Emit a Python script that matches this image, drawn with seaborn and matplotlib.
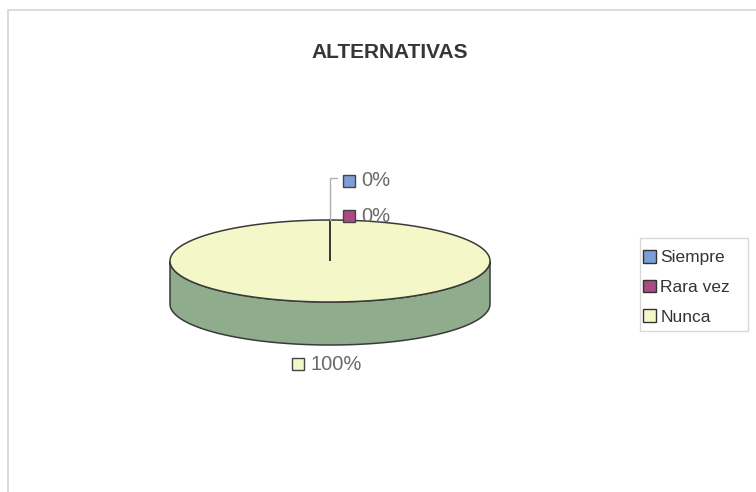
import numpy as np
import matplotlib
matplotlib.use("Agg")
import matplotlib.pyplot as plt
from matplotlib.patches import Polygon, Rectangle, Patch
import seaborn as sns

# Survey answers and their shares (%)
categories = ["Siempre", "Rara vez", "Nunca"]
values = [0, 0, 100]

sns.set_theme(style="white")
plt.rcParams["font.family"] = ["Liberation Sans", "DejaVu Sans"]

top_colors = ["#7C9ED6", "#A94A82", "#F4F7C8"]
side_colors = ["#5A78AA", "#7E3561", "#8FAD8C"]
edge_col = "#3a3a3a"

W, H = 756, 492
fig = plt.figure(figsize=(W / 100, H / 100), dpi=100)
ax = fig.add_axes([0, 0, 1, 1])
ax.set_xlim(0, W)
ax.set_ylim(H, 0)
ax.axis("off")

# chart-area frame (top and left edges visible)
ax.plot([8, 8, W], [H, 10, 10], color="#d4d4d4", lw=1.2, solid_capstyle="butt")

ax.text(390, 52, "ALTERNATIVAS", ha="center", va="center",
        fontsize=15, fontweight="bold", color="#363636")

# 3-D pie geometry (pixel space)
cx, cy, rx, ry, depth = 330, 261, 160, 41, 43


def ell(t, dy=0.0):
    t = np.radians(t)
    return cx + rx * np.cos(t), cy - ry * np.sin(t) + dy


total = float(sum(values))
start = 90.0
slices = []
for cat, v, ct, cs in zip(categories, values, top_colors, side_colors):
    sweep = v / total * 360.0
    slices.append((cat, v, start, start - sweep, ct, cs))
    start -= sweep

# side walls (front half only)
for cat, v, a0, a1, ct, cs in slices:
    if v <= 0:
        continue
    t = np.linspace(a0, a1, 721)
    front = np.sin(np.radians(t)) <= 1e-9
    tt = t[front]
    if tt.size < 2:
        continue
    x, y = ell(tt)
    xb, yb = ell(tt, depth)
    poly = np.column_stack([np.r_[x, xb[::-1]], np.r_[y, yb[::-1]]])
    ax.add_patch(Polygon(poly, closed=True, facecolor=cs, edgecolor=edge_col,
                         lw=1.1, zorder=2))

# top faces
for cat, v, a0, a1, ct, cs in slices:
    if v <= 0:
        continue
    t = np.linspace(a0, a1, 721)
    x, y = ell(t)
    poly = np.column_stack([np.r_[cx, x, cx], np.r_[cy, y, cy]])
    ax.add_patch(Polygon(poly, closed=True, facecolor=ct, edgecolor=edge_col,
                         lw=1.1, zorder=3))


def label(x, y, color, text):
    ax.add_patch(Rectangle((x, y - 6), 12, 12, facecolor=color,
                           edgecolor="#444444", lw=1.0, zorder=6))
    ax.text(x + 18, y, text, ha="left", va="center", fontsize=14.5,
            color="#6a6a6a", zorder=6)


# data labels: zero-size slices stack above the pie top, others sit outside
zero_rank = 0
n_zero = sum(1 for v in values if v == 0)
for cat, v, a0, a1, ct, cs in slices:
    pct = f"{v / total * 100:.0f}%"
    if v == 0:
        yy = cy - ry - 4 - 35 * (n_zero - 1 - zero_rank)
        label(cx + 13, yy, ct, pct)
        zero_rank += 1
    else:
        mid = (a0 + a1) / 2.0
        mx, my = ell(mid, depth if np.sin(np.radians(mid)) < 0 else 0)
        ox = 20 * np.cos(np.radians(mid))
        oy = -19 * np.sin(np.radians(mid))
        label(mx + ox - 38, my + oy, ct, pct)

# leader line for the zero slices
if n_zero:
    ytop = cy - ry - 4 - 35 * (n_zero - 1) - 3
    ax.plot([cx, cx, cx + 7], [cy - ry, ytop, ytop], color="#b0b0b0",
            lw=1.0, zorder=4)

# legend: thin light frame drawn separately, entries placed inside it
ax.add_patch(Rectangle((640, 238), 108, 93, facecolor="white",
                       edgecolor="#d8d8d8", lw=1.0, zorder=5))
handles = [Patch(facecolor=c, edgecolor="#333333", label=l)
           for l, c in zip(categories, top_colors)]
leg = ax.legend(handles=handles, loc="upper left",
                bbox_to_anchor=(643 / W, 1 - 250 / H),
                bbox_transform=fig.transFigure, frameon=False, fontsize=12.5,
                handlelength=0.75, handleheight=0.75, handletextpad=0.25,
                labelspacing=0.82, borderpad=0, borderaxespad=0)
leg.set_zorder(7)
for t in leg.get_texts():
    t.set_color("#333333")

fig.savefig("out.png", dpi=100, facecolor="white")
